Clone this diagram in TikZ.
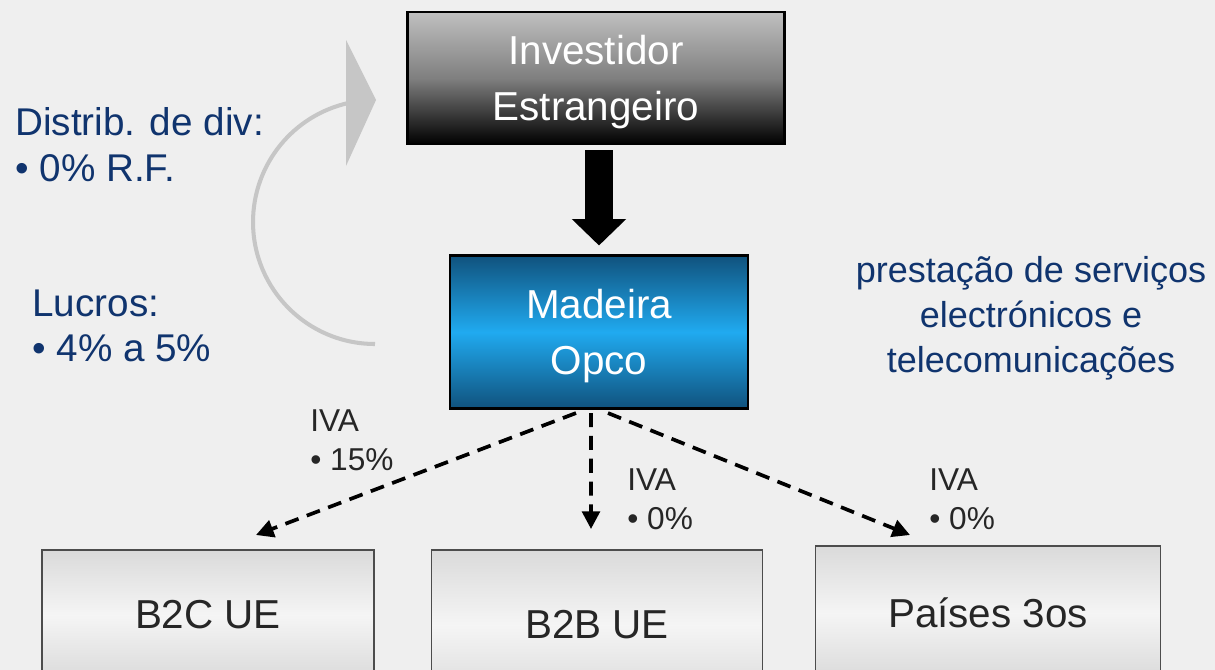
\documentclass[tikz,border=0pt]{standalone}
\usepackage{fontspec}
\setmainfont{Liberation Sans}
\usetikzlibrary{arrows.meta,positioning,calc}
\definecolor{fundo}{RGB}{239,239,239}
\definecolor{azultxt}{RGB}{16,52,110}
\definecolor{cinzaarco}{RGB}{198,198,198}
\definecolor{azulesc}{RGB}{16,82,125}
\definecolor{azulclaro}{RGB}{32,170,240}
\definecolor{cinzacx}{RGB}{218,218,218}
\begin{document}
\begin{tikzpicture}[x=0.02cm,y=-0.02cm,
  caixa/.style={draw=black,line width=1.2pt,align=center,text=white,text depth=0pt,font=\fontsize{23}{32}\selectfont},
  cliente/.style={draw=black!70,line width=1pt,top color=cinzacx,bottom color=cinzacx,middle color=black!4,font=\fontsize{23}{28}\selectfont,text=black!85},
  nota/.style={text=azultxt,font=\fontsize{22}{26}\selectfont,align=left,anchor=west,inner sep=0pt},
  iva/.style={font=\fontsize{18}{22}\selectfont,align=left,anchor=west,inner sep=0pt,text=black!85},
  fluxo/.style={line width=2.1pt,dash pattern=on 8pt off 5pt,-{Triangle[width=10pt,length=10pt]}}]
  \fill[fundo] (0,0) rectangle (1215,670);
  \useasboundingbox (0,0) rectangle (1215,670);
  \clip (0,0) rectangle (1215,670);
  \node[caixa,top color=black!25,bottom color=black,middle color=black!50,minimum width=7.54cm,minimum height=2.64cm] (inv) at (596,78) {Investidor\\Estrangeiro};
  \node[caixa,top color=azulesc,bottom color=azulesc,middle color=azulclaro,minimum width=5.96cm,minimum height=3.06cm] (mad) at (599,332) {Madeira\\Opco};
  \draw[line width=16pt,shorten <=0.1cm,shorten >=0.18cm,-{Triangle[width=30pt,length=15pt]}] (inv.south -| mad.north) -- (mad.north);
  % dividendos / lucros
  \coordinate (lucro) at (375,344);
  \draw[cinzaarco,line width=2.3pt] (lucro) arc[start angle=-90,end angle=-258,radius=2.44cm];
  \fill[cinzaarco] (346,40) -- (346,166) -- (376,100) -- cycle;
  \node[nota] (dist) at (15,145) {Distrib. de div:\\• 0\% R.F.};
  \node[nota] (lucros) at (32,326) {Lucros:\\• 4\% a 5\%};
  \node[nota,anchor=center,align=center,font=\fontsize{20.5}{25.5}\selectfont] (servicos) at (1031,318) {prestação de serviços\\electrónicos e\\telecomunicações};
  % clientes
  \node[cliente,minimum width=6.64cm,minimum height=2.6cm] (b2c) at (208,615) {B2C UE};
  \node[cliente,minimum width=6.62cm,minimum height=3cm] (b2b) at (597,625) {B2B UE};
  \node[cliente,minimum width=6.9cm,minimum height=2.68cm] (p3) at (988,613) {Países 3os};
  \coordinate (pb2c) at (256,535);
  \coordinate (pb2b) at (591,529);
  \coordinate (pp3) at (910,535);
  \draw[fluxo] ([xshift=-0.46cm,yshift=-2pt]mad.south) -- (pb2c);
  \draw[fluxo] ([xshift=-0.16cm,yshift=-2pt]mad.south) -- (pb2b);
  \draw[fluxo] ([xshift=0.18cm,yshift=-2pt]mad.south) -- (pp3);
  \node[iva] (iva1) at (310,440) {IVA\\• 15\%};
  \node[iva] (iva2) at (627,499) {IVA\\• 0\%};
  \node[iva] (iva3) at (929,499) {IVA\\• 0\%};
\end{tikzpicture}
\end{document}
